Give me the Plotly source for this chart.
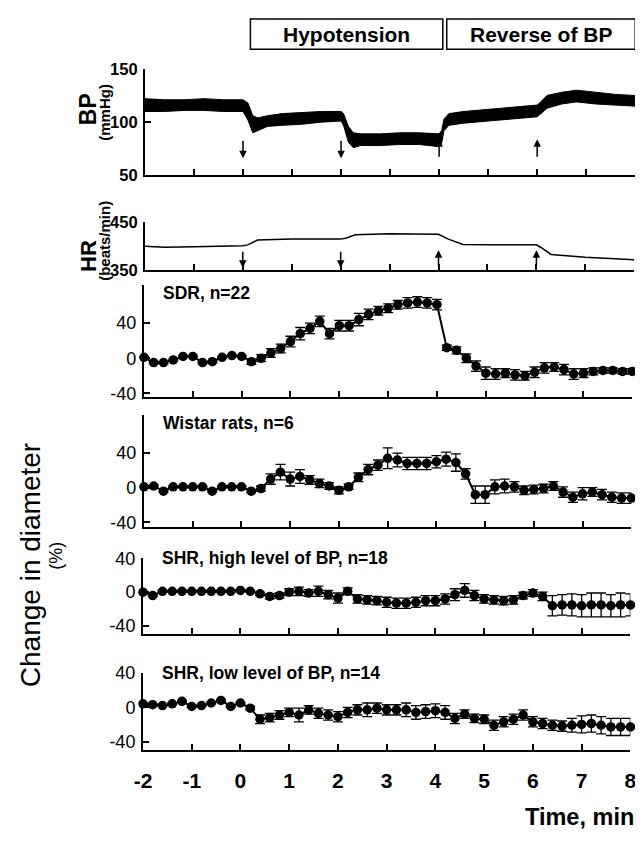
import plotly.graph_objects as go

W, H = 643, 853

# ---------------- data ----------------
time_min = [-2.0, -1.8, -1.6, -1.4, -1.2, -1.0, -0.8, -0.6, -0.4, -0.2,
            0.0, 0.2, 0.4, 0.6, 0.8, 1.0, 1.2, 1.4, 1.6, 1.8,
            2.0, 2.2, 2.4, 2.6, 2.8, 3.0, 3.2, 3.4, 3.6, 3.8,
            4.0, 4.2, 4.4, 4.6, 4.8, 5.0, 5.2, 5.4, 5.6, 5.8,
            6.0, 6.2, 6.4, 6.6, 6.8, 7.0, 7.2, 7.4, 7.6, 7.8, 8.0]

sdr_mean = [1, -5, -5, -2, 2, 2, -5, -4, 1, 3,
            2, -4, 0, 6, 11, 19, 28, 34, 42, 28,
            37, 37, 44, 50, 54, 57, 61, 63, 64, 63,
            61, 12, 9, 0, -9, -17, -18, -17, -19, -20,
            -16, -11, -10, -13, -18, -17, -15, -14, -14, -15, -15]
sdr_se = [1, 1, 1, 1, 1, 1, 1, 1, 1, 1,
          1, 3, 4, 5, 5, 6, 7, 6, 6, 6,
          6, 6, 7, 6, 5, 5, 5, 6, 6, 6,
          6, 3, 4, 5, 6, 7, 6, 5, 6, 5,
          6, 6, 5, 6, 6, 5, 4, 3, 3, 3, 3]

wistar_mean = [1, 2, -4, 1, 1, 1, 1, -4, 1, 1,
               1, -4, -1, 10, 18, 10, 13, 9, 5, 2,
               -3, 1, 12, 21, 26, 34, 32, 28, 28, 28,
               30, 33, 29, 16, -8, -8, 1, 2, 1, -3,
               -2, -1, 2, -5, -11, -7, -5, -8, -11, -12, -12]
wistar_se = [1, 1, 1, 1, 1, 1, 1, 1, 1, 1,
             1, 2, 3, 6, 9, 8, 8, 5, 5, 4,
             4, 3, 5, 6, 6, 12, 8, 7, 7, 7,
             7, 8, 10, 6, 10, 10, 8, 8, 6, 5,
             5, 5, 5, 6, 6, 7, 5, 6, 6, 6, 6]

shr_high_mean = [0, -4, 1, 1, 1, 1, 1, 1, 1, 1,
                 2, 1, -2, -5, -4, 0, 1, -1, 1, -3,
                 -7, 1, -8, -9, -10, -12, -13, -13, -12, -10,
                 -10, -8, -3, 2, -4, -8, -9, -10, -9, -4,
                 -1, -5, -16, -15, -15, -16, -15, -15, -16, -15, -15]
shr_high_se = [1, 1, 1, 1, 1, 1, 1, 1, 1, 1,
               1, 1, 2, 3, 3, 4, 5, 4, 6, 5,
               6, 4, 5, 5, 5, 6, 6, 6, 6, 6,
               6, 6, 7, 8, 6, 5, 5, 5, 5, 4,
               4, 5, 12, 12, 13, 13, 14, 14, 13, 14, 13]

shr_low_mean = [4, 3, 2, 4, 7, 1, 2, 5, 8, 1,
                5, -1, -14, -12, -9, -6, -9, -3, -7, -9,
                -11, -6, -3, -3, -1, -3, -3, -3, -6, -5,
                -4, -6, -13, -8, -13, -14, -21, -17, -14, -9,
                -17, -19, -21, -22, -21, -20, -19, -21, -23, -23, -23]
shr_low_se = [1, 1, 1, 1, 1, 1, 1, 1, 1, 1,
              1, 2, 5, 5, 5, 5, 8, 5, 6, 6,
              6, 6, 6, 8, 6, 6, 6, 8, 8, 8,
              8, 8, 6, 5, 5, 5, 6, 6, 6, 6,
              6, 6, 6, 6, 8, 10, 10, 10, 10, 10, 10]

bp_time = [-2.0, -1.6, -1.2, -0.8, -0.4, 0.0, 0.1, 0.2, 0.3, 0.5, 0.8, 1.2, 1.6, 2.0,
           2.05, 2.15, 2.25, 2.4, 2.8, 3.2, 3.6, 4.0, 4.05, 4.1, 4.2, 4.5, 5.0, 5.5,
           6.0, 6.05, 6.2, 6.5, 6.8, 7.2, 7.6, 8.0]
bp_upper = [122, 121, 121, 122, 121, 121, 118, 106, 104, 106, 108, 109, 110, 110,
            108, 96, 90, 89, 89, 90, 90, 89, 92, 103, 108, 110, 112, 114,
            116, 118, 125, 128, 130, 128, 126, 125]
bp_lower = [110, 110, 111, 111, 110, 110, 102, 90, 92, 96, 97, 98, 100, 101,
            97, 81, 76, 78, 78, 79, 79, 77, 80, 92, 97, 99, 101, 103,
            105, 107, 113, 117, 119, 117, 116, 115]

hr_time = [-2.0, -1.6, -1.0, 0.0, 0.1, 0.3, 1.0, 2.0, 2.1, 2.3, 3.0, 4.0, 4.2, 4.5,
           5.0, 6.0, 6.1, 6.3, 7.0, 8.0]
hr_rate = [400, 398, 399, 401, 403, 413, 415, 415, 417, 424, 426, 425, 415, 404,
           403, 403, 397, 383, 377, 372]

event_times = [0, 2, 4, 6]
event_down = [True, True, False, False]
x_ticks = [-2, -1, 0, 1, 2, 3, 4, 5, 6, 7, 8]

panel_labels = ["SDR, n=22", "Wistar rats, n=6",
                "SHR, high level of BP, n=18", "SHR, low level of BP, n=14"]
phase_labels = ["Hypotension", "Reverse of BP"]

# ---------------- layout helpers ----------------
def fx(p):
    return p / W


def fy(p):
    return 1 - p / H


FONT = "Liberation Sans, Arial, Helvetica, sans-serif"

# (top px, bottom px, left px, right px)
geo = [
    (52, 161, 131, 633),     # BP
    (209, 258, 131, 632),    # HR
    (273, 388, 130, 630),    # SDR
    (406, 521, 130, 629),    # Wistar
    (552.5, 630, 129, 628),  # SHR high
    (670, 749, 129, 628),    # SHR low
]

fig = go.Figure()

# BP band
fig.add_trace(go.Scatter(x=bp_time, y=bp_lower, mode="lines",
                         line=dict(color="black", width=1),
                         xaxis="x", yaxis="y", showlegend=False, hoverinfo="skip"))
fig.add_trace(go.Scatter(x=bp_time, y=bp_upper, mode="lines", fill="tonexty",
                         fillcolor="black", line=dict(color="black", width=1),
                         xaxis="x", yaxis="y", showlegend=False))
# HR line
fig.add_trace(go.Scatter(x=hr_time, y=hr_rate, mode="lines",
                         line=dict(color="black", width=1.5),
                         xaxis="x2", yaxis="y2", showlegend=False))

series = [(sdr_mean, sdr_se), (wistar_mean, wistar_se),
          (shr_high_mean, shr_high_se), (shr_low_mean, shr_low_se)]
for i, (m, s) in enumerate(series):
    fig.add_trace(go.Scatter(
        x=time_min, y=m, mode="lines+markers",
        marker=dict(size=9.5, color="black"),
        line=dict(color="black", width=2),
        error_y=dict(type="data", array=s, color="black", thickness=1.3, width=5),
        xaxis=f"x{i+3}", yaxis=f"y{i+3}", showlegend=False, cliponaxis=False))

layout = dict(width=W, height=H, margin=dict(l=0, r=0, t=0, b=0),
              paper_bgcolor="white", plot_bgcolor="white",
              font=dict(family=FONT, color="black"), showlegend=False)

bold_tick = dict(size=16.5, family=FONT, weight="bold")
reg_tick = dict(size=18, family=FONT)
y_specs = [
    dict(range=[50, 150], tickvals=[50, 100, 150], ticktext=["50", "100", "150"], tickfont=bold_tick),
    dict(range=[350, 450], tickvals=[350, 450], ticktext=["350", "450"], tickfont=bold_tick),
    dict(range=[-44.6, 83.5], tickvals=[-40, 0, 40, 83.5], ticktext=["-40", "0", "40", ""], tickfont=reg_tick),
    dict(range=[-45.8, 84], tickvals=[-40, 0, 40, 84], ticktext=["-40", "0", "40", ""], tickfont=reg_tick),
    dict(range=[-49.2, 40], tickvals=[-40, 0, 40], ticktext=["-40", "0", "40"], tickfont=reg_tick),
    dict(range=[-50.3, 40], tickvals=[-40, 0, 40], ticktext=["-40", "0", "40"], tickfont=reg_tick),
]

for i, (top, bot, left, right) in enumerate(geo):
    sfx = "" if i == 0 else str(i + 1)
    last = i == len(geo) - 1
    layout["xaxis" + sfx] = dict(
        domain=[fx(left), fx(right)], range=[-2, 8], anchor="y" + sfx,
        tickvals=x_ticks, ticktext=[str(v) for v in x_ticks],
        ticks="inside", ticklen=6, tickwidth=1.5, tickcolor="black",
        showline=True, linewidth=2, linecolor="black",
        showgrid=False, zeroline=False, showticklabels=last,
        ticklabelstandoff=10,
        tickfont=dict(size=21, family=FONT, weight="bold"), fixedrange=True)
    yd = dict(
        domain=[fy(bot), fy(top)], anchor="x" + sfx,
        ticks="inside", ticklen=6, tickwidth=1.5, tickcolor="black",
        showline=True, linewidth=2, linecolor="black",
        showgrid=False, zeroline=False, ticklabelstandoff=2, fixedrange=True)
    yd.update(y_specs[i])
    layout["yaxis" + sfx] = yd

fig.update_layout(**layout)

ann = []
# event arrows
for t, down in zip(event_times, event_down):
    for ax_sfx, lo, hi in (("", 66, 84), ("2", 355, 392)):
        tip, tail = (lo, hi) if down else (hi, lo)
        ann.append(dict(x=t, y=tip, xref="x" + ax_sfx, yref="y" + ax_sfx,
                        ax=t, ay=tail, axref="x" + ax_sfx, ayref="y" + ax_sfx,
                        showarrow=True, arrowhead=2, arrowsize=1, arrowwidth=1.5,
                        arrowcolor="black", text=""))

# phase boxes
box_px = [(239, 436), (440, 633)]
for (x0, x1), lab in zip(box_px, phase_labels):
    fig.add_shape(type="rect", xref="paper", yref="paper",
                  x0=fx(x0), x1=fx(x1), y0=fy(32), y1=fy(1),
                  line=dict(color="black", width=1.5))
    ann.append(dict(x=fx((x0 + x1) / 2), y=fy(16.5), xref="paper", yref="paper",
                    text=lab, showarrow=False, xanchor="center", yanchor="middle",
                    font=dict(size=21, family=FONT, weight="bold")))

# panel labels
label_y = [281, 414, 552, 670]
for (top, bot, left, right), ly, lab in zip(geo[2:], label_y, panel_labels):
    ann.append(dict(x=fx(left + 17), y=fy(ly), xref="paper", yref="paper",
                    text=lab, showarrow=False, xanchor="left", yanchor="middle",
                    font=dict(size=17.5, family=FONT, weight="bold")))


def vtext(x, y, text, size, bold):
    f = dict(size=size, family=FONT)
    if bold:
        f["weight"] = "bold"
    return dict(x=fx(x), y=fy(y), xref="paper", yref="paper", text=text,
                textangle=-90, showarrow=False, xanchor="center", yanchor="middle",
                font=f)


ann.append(vtext(73, 93, "BP", 23, True))
ann.append(vtext(90, 96, "(mmHg)", 15, True))
ann.append(vtext(73, 243, "HR", 22, True))
ann.append(vtext(90, 228, "(beats/min)", 15, True))
ann.append(vtext(14, 560, "Change in diameter", 28, False))
ann.append(vtext(40, 550, "(%)", 18, False))
ann.append(dict(x=fx(634), y=fy(817), xref="paper", yref="paper", text="Time, min",
                showarrow=False, xanchor="right", yanchor="middle",
                font=dict(size=23.5, family=FONT, weight="bold")))

fig.update_layout(annotations=ann)
fig.write_html("out.html")
